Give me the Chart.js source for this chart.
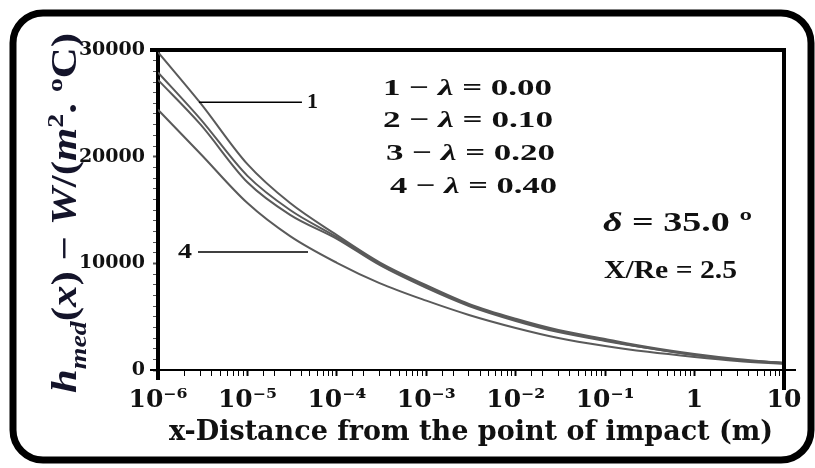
<!DOCTYPE html>
<html>
<head>
<meta charset="utf-8">
<script src="https://cdn.jsdelivr.net/npm/chart.js@4.4.1/dist/chart.umd.min.js"></script>
<style>
  html, body { margin: 0; padding: 0; background: #fff; }
  canvas { display: block; }
</style>
</head>
<body>
<canvas id="chart" width="815" height="468"></canvas>
<script>
// distance from the point of impact (m)
const distances = [1e-6, 3e-6, 1e-5, 3e-5, 1e-4, 3e-4, 1e-3, 3e-3, 1e-2, 3e-2, 1e-1, 3e-1, 1, 3, 10];

// h_med(x) in W/(m2.C) for each lambda
const lambda000 = [29800, 25000, 19300, 15650, 12650, 10100, 7950, 6200, 4800, 3750, 2900, 2150, 1500, 1030, 650];
const lambda010 = [27900, 23500, 18200, 15000, 12450, 10000, 7850, 6100, 4700, 3650, 2800, 2060, 1400, 940, 650];
const lambda020 = [27200, 23000, 17600, 14550, 12300, 9850, 7700, 6000, 4600, 3550, 2720, 2060, 1400, 940, 650];
const lambda040 = [24400, 20250, 15650, 12550, 10050, 8150, 6500, 5160, 3940, 3000, 2250, 1700, 1220, 850, 560];

const yTickLabels = [0, 10000, 20000, 30000];
const legendRows = ['0.00', '0.10', '0.20', '0.40'];

// leader lines for curve labels 1 and 4 (data coords)
const leaders = [
  { label: '1', from: 2.87e-6, to: 4.07e-5, y: 25100 },
  { label: '4', from: 2.8e-6, to: 4.76e-5, y: 11060 }
];

const TIMES = "'Liberation Serif', 'Times New Roman', serif";
const WIDE = "'DejaVu Serif', 'Liberation Serif', serif";
const INK = '#111';

const toPoints = vals => vals.map((v, i) => ({ x: distances[i], y: v }));

const isDecade = v => Math.abs(Math.log10(v) - Math.round(Math.log10(v))) < 1e-6;
const sup = { '-': '⁻', '0': '⁰', '1': '¹', '2': '²', '3': '³', '4': '⁴', '5': '⁵', '6': '⁶', '7': '⁷', '8': '⁸', '9': '⁹' };

function decadeLabel(v) {
  const e = Math.round(Math.log10(v));
  if (e === 0) return '1';
  if (e === 1) return '10';
  return '10' + String(e).split('').map(c => sup[c]).join('');
}

function pieceFont(kind, size) {
  let s = size, style = '';
  if (kind === 'i') style = 'italic ';
  if (kind === 'sub') { s = size * 0.65; style = 'italic '; }
  if (kind === 'sup') s = size * 0.65;
  return style + 'bold ' + s + 'px ' + TIMES;
}

// draw text made of pieces (normal / italic / sub / sup)
function drawPieces(ctx, x, y, pieces, size) {
  let cx = x;
  pieces.forEach(([txt, kind]) => {
    let dy = 0;
    if (kind === 'sub') dy = size * 0.28;
    if (kind === 'sup') dy = -size * 0.38;
    ctx.font = pieceFont(kind, size);
    ctx.fillText(txt, cx, y + dy);
    cx += ctx.measureText(txt).width;
  });
}

function piecesWidth(ctx, pieces, size) {
  let w = 0;
  pieces.forEach(([txt, kind]) => {
    ctx.font = pieceFont(kind, size);
    w += ctx.measureText(txt).width;
  });
  return w;
}

// the original picture is stretched sideways, so text is stretched to its span
function fitPieces(ctx, left, right, y, pieces, size) {
  const sx = (right - left) / piecesWidth(ctx, pieces, size);
  ctx.save();
  ctx.translate(left, y);
  ctx.scale(sx, 1);
  drawPieces(ctx, 0, 0, pieces, size);
  ctx.restore();
}

const decorations = {
  id: 'decorations',
  beforeDraw(chart) {
    const ctx = chart.ctx;
    ctx.save();
    ctx.fillStyle = '#fff';
    ctx.fillRect(0, 0, chart.width, chart.height);
    ctx.restore();
  },
  afterDraw(chart) {
    const { ctx, chartArea: a, scales } = chart;
    ctx.save();

    // rounded outer frame
    ctx.strokeStyle = '#000';
    ctx.lineWidth = 7;
    ctx.beginPath();
    ctx.roundRect(13, 13, 798, 447, 30);
    ctx.stroke();

    // top and right sides of the plot box
    ctx.lineWidth = 4;
    ctx.beginPath();
    ctx.moveTo(a.left - 8, a.top);
    ctx.lineTo(a.right, a.top);
    ctx.lineTo(a.right, a.bottom + 20);
    ctx.stroke();
    // left axis running below the x axis
    ctx.beginPath();
    ctx.moveTo(a.left, a.bottom);
    ctx.lineTo(a.left, a.bottom + 10);
    ctx.stroke();
    // x axis sticking out a bit on both sides
    ctx.lineWidth = 2;
    ctx.beginPath();
    ctx.moveTo(a.left - 8, a.bottom);
    ctx.lineTo(a.right + 12, a.bottom);
    ctx.stroke();

    // leader lines for curves 1 and 4
    ctx.fillStyle = INK;
    ctx.lineWidth = 1.6;
    ctx.textBaseline = 'middle';
    leaders.forEach(l => {
      const x0 = scales.x.getPixelForValue(l.from);
      const x1 = scales.x.getPixelForValue(l.to);
      const y = scales.y.getPixelForValue(l.y);
      ctx.beginPath();
      ctx.moveTo(x0, y);
      ctx.lineTo(x1, y);
      ctx.stroke();
      if (l.label === '1') fitPieces(ctx, x1 + 5, x1 + 16, y, [[l.label, 'n']], 22);
      else fitPieces(ctx, x0 - 20, x0 - 6, y, [[l.label, 'n']], 22);
    });

    // legend block inside the plot
    const rowLeft = [383, 383, 386, 390];
    const rowRight = [552, 553, 555, 557];
    const rowY = [89, 121, 154, 187];
    legendRows.forEach((val, i) => {
      fitPieces(ctx, rowLeft[i], rowRight[i], rowY[i], [
        [(i + 1) + ' \u2212 ', 'n'], ['\u03bb', 'i'], [' = ' + val, 'n']
      ], 24);
    });

    fitPieces(ctx, 603, 752, 224, [['\u03b4', 'i'], [' = 35.0 \u00ba', 'n']], 28);
    fitPieces(ctx, 604, 737, 271, [['X/Re = 2.5', 'n']], 26);

    // y axis title with subscript and superscript
    const title = [
      ['h', 'i'], ['med', 'sub'], ['(', 'n'], ['x', 'i'], [') \u2212 ', 'n'],
      ['W', 'i'], ['/(', 'n'], ['m', 'i'], ['2', 'sup'], ['. \u00baC)', 'n']
    ];
    ctx.translate(76, 213);
    ctx.rotate(-Math.PI / 2);
    ctx.textBaseline = 'alphabetic';
    ctx.fillStyle = '#14142a';
    fitPieces(ctx, -180, 180, 0, title, 35);

    ctx.restore();
  }
};

const curveStyle = {
  borderColor: '#5a5a5a',
  borderWidth: 2,
  pointRadius: 0,
  fill: false,
  cubicInterpolationMode: 'monotone'
};

new Chart(document.getElementById('chart'), {
  type: 'line',
  data: {
    datasets: [
      { label: '\u03bb = 0.00', data: toPoints(lambda000), ...curveStyle },
      { label: '\u03bb = 0.10', data: toPoints(lambda010), ...curveStyle },
      { label: '\u03bb = 0.20', data: toPoints(lambda020), ...curveStyle },
      { label: '\u03bb = 0.40', data: toPoints(lambda040), ...curveStyle }
    ]
  },
  options: {
    responsive: false,
    animation: false,
    devicePixelRatio: 1,
    layout: { padding: { top: 50, right: 31, left: 0, bottom: 0 } },
    plugins: {
      legend: { display: false },
      tooltip: { enabled: false }
    },
    scales: {
      x: {
        type: 'logarithmic',
        min: 1e-6,
        max: 10,
        border: { color: '#000', width: 2 },
        grid: {
          drawOnChartArea: false,
          tickLength: 6,
          tickColor: '#000',
          tickWidth: ctx => (ctx.tick && isDecade(ctx.tick.value) ? 2 : 1)
        },
        ticks: {
          autoSkip: false,
          maxRotation: 0,
          padding: 9,
          color: INK,
          font: { family: WIDE, size: 25, weight: 'bold' },
          callback: v => (isDecade(v) ? decadeLabel(v) : '')
        },
        title: {
          display: true,
          text: 'x-Distance from the point of impact (m)',
          color: INK,
          font: { family: WIDE, size: 27, weight: 'bold' },
          padding: { top: 0, bottom: 19 }
        },
        afterFit: s => { s.height = 98; }
      },
      y: {
        min: 0,
        max: 30000,
        border: { color: '#000', width: 4 },
        grid: {
          drawOnChartArea: false,
          tickLength: 5,
          tickColor: '#555',
          tickWidth: ctx => (ctx.tick && yTickLabels.includes(ctx.tick.value) ? 2 : 1)
        },
        ticks: {
          stepSize: 1000,
          autoSkip: false,
          padding: 8,
          color: INK,
          font: { family: WIDE, size: 19, weight: 'bold' },
          callback: v => (yTickLabels.includes(v) ? String(v) : '')
        },
        afterFit: s => { s.width = 158; }
      }
    }
  },
  plugins: [decorations]
});
</script>
</body>
</html>
